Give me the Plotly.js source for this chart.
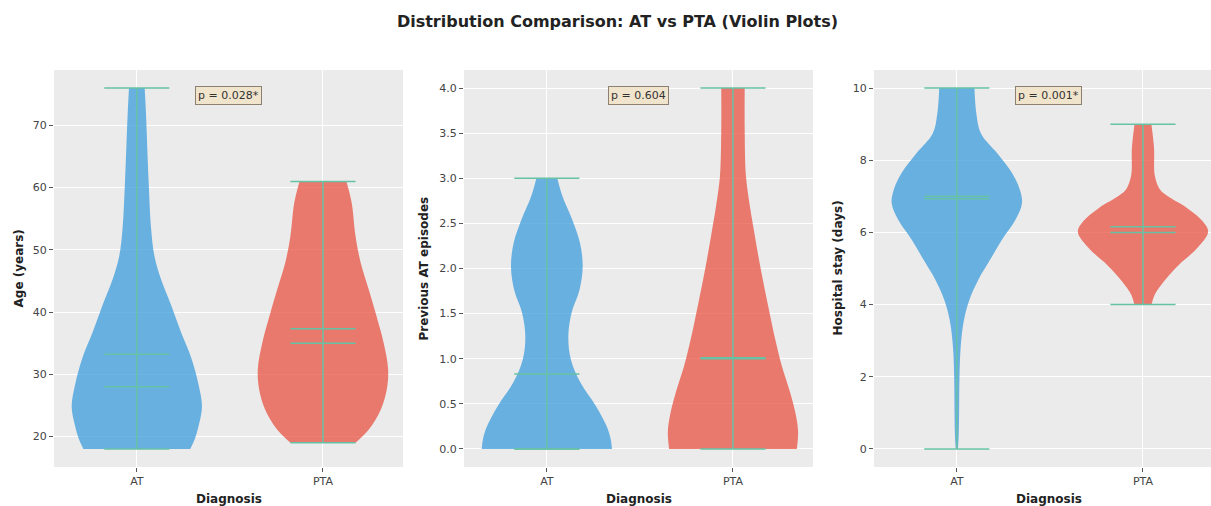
<!DOCTYPE html>
<html><head><meta charset="utf-8">
<script src="https://cdn.plot.ly/plotly-3.0.1.min.js"></script>
<style>html,body{margin:0;padding:0;overflow:hidden;background:#fff}#chart{width:1223px;height:506px}</style>
</head><body><div id="chart"></div>
<script>
// ---- Data ----
const categories = ['AT', 'PTA'];
const pValues = ['p = 0.028*', 'p = 0.604', 'p = 0.001*'];
const yTitles = ['Age (years)', 'Previous AT episodes', 'Hospital stay (days)'];

// Violin density profiles: y levels and relative half-width (1 = widest)
const ageAT_y   = [18.0, 19.6, 21.8, 24.8, 28.2, 32.5, 36.7, 41.0, 45.3, 49.0, 53.3, 61.3, 72.0, 76.0];
const ageAT_w   = [0.82, 0.89, 0.95, 1.00, 0.95, 0.84, 0.68, 0.53, 0.37, 0.27, 0.22, 0.18, 0.14, 0.12];
const agePTA_y  = [19.0, 21.2, 24.4, 27.6, 30.8, 35.1, 39.4, 43.7, 47.9, 52.2, 57.6, 61.0];
const agePTA_w  = [0.50, 0.71, 0.89, 0.98, 1.00, 0.93, 0.82, 0.70, 0.58, 0.50, 0.44, 0.36];

const prevAT_y  = [0.0, 0.11, 0.25, 0.48, 0.73, 0.99, 1.25, 1.51, 1.76, 2.02, 2.28, 2.54, 2.80, 3.0];
const prevAT_w  = [1.00, 0.98, 0.92, 0.75, 0.52, 0.37, 0.33, 0.38, 0.50, 0.55, 0.51, 0.39, 0.24, 0.16];
const prevPTA_y = [0.0, 0.18, 0.36, 0.62, 0.92, 1.21, 1.62, 2.02, 2.43, 2.69, 3.02, 3.53, 4.0];
const prevPTA_w = [0.98, 1.00, 0.97, 0.88, 0.75, 0.65, 0.53, 0.42, 0.32, 0.26, 0.20, 0.18, 0.18];

const stayAT_y  = [0.0, 0.08, 0.45, 1.0, 1.93, 2.85, 3.58, 4.14, 4.69, 5.24, 5.79, 6.35, 6.81, 7.17, 7.64, 8.19, 8.74, 9.29, 10.0];
const stayAT_w  = [0.015, 0.02, 0.03, 0.035, 0.04, 0.06, 0.11, 0.195, 0.33, 0.51, 0.69, 0.90, 1.00, 0.97, 0.85, 0.62, 0.37, 0.30, 0.27];
const stayPTA_y = [3.99, 4.27, 4.64, 5.10, 5.56, 6.02, 6.30, 6.67, 7.04, 7.22, 7.59, 8.33, 8.99];
const stayPTA_w = [0.13, 0.18, 0.32, 0.55, 0.83, 1.00, 0.92, 0.68, 0.35, 0.25, 0.18, 0.17, 0.13];

// Summary statistics per panel: [AT, PTA]
const ageMin = [18, 19],  ageMax = [76, 61],  ageMean = [33.2, 37.3],  ageMedian = [28, 35];
const prevMin = [0, 0],   prevMax = [3, 4],   prevMean = [0.83, 1.01], prevMedian = [0, 1];
const stayMin = [0, 4],   stayMax = [10, 9],  stayMean = [6.93, 6.16], stayMedian = [7, 6];

// ---- Style ----
const HALF = 0.35, BAR = 0.175;
const fillColors = ['rgba(52,152,219,0.72)', 'rgba(231,76,60,0.72)'];
const lineColor = '#66c2a5';
const FONT = 'DejaVu Sans, sans-serif';

function violin(pos, ys, ws, color, xa, ya) {
  const left = {
    type: 'scatter', mode: 'lines', xaxis: xa, yaxis: ya,
    x: ys.map((y, i) => pos - ws[i] * HALF), y: ys,
    line: {width: 0, shape: 'spline', smoothing: 1, color: color},
    hoverinfo: 'skip', showlegend: false
  };
  const right = {
    type: 'scatter', mode: 'lines', xaxis: xa, yaxis: ya,
    x: ys.map((y, i) => pos + ws[i] * HALF), y: ys,
    fill: 'tonextx', fillcolor: color,
    line: {width: 0, shape: 'spline', smoothing: 1, color: color},
    hoverinfo: 'skip', showlegend: false
  };
  return [left, right];
}
function statLines(mins, maxs, means, meds, xa, ya) {
  const x = [], y = [];
  [0, 1].forEach(p => {
    [mins[p], maxs[p], means[p], meds[p]].forEach(v => { x.push(p - BAR, p + BAR, null); y.push(v, v, null); });
    x.push(p, p, null); y.push(mins[p], maxs[p], null);
  });
  return {type: 'scatter', mode: 'lines', xaxis: xa, yaxis: ya, x: x, y: y,
    line: {color: lineColor, width: 1.5}, hoverinfo: 'skip', showlegend: false};
}

const traces = [].concat(
  violin(0, ageAT_y, ageAT_w, fillColors[0], 'x', 'y'),
  violin(1, agePTA_y, agePTA_w, fillColors[1], 'x', 'y'),
  [statLines(ageMin, ageMax, ageMean, ageMedian, 'x', 'y')],
  violin(0, prevAT_y, prevAT_w, fillColors[0], 'x2', 'y2'),
  violin(1, prevPTA_y, prevPTA_w, fillColors[1], 'x2', 'y2'),
  [statLines(prevMin, prevMax, prevMean, prevMedian, 'x2', 'y2')],
  violin(0, stayAT_y, stayAT_w, fillColors[0], 'x3', 'y3'),
  violin(1, stayPTA_y, stayPTA_w, fillColors[1], 'x3', 'y3'),
  [statLines(stayMin, stayMax, stayMean, stayMedian, 'x3', 'y3')]
);

const W = 1223, L = 54, PW = W - L;
const domains = [[0, 349 / PW], [(464 - L) / PW, (813 - L) / PW], [(874 - L) / PW, 1]];
function xax(i) {
  return {domain: domains[i], range: [-0.445, 1.43], tickvals: [0, 1], ticktext: categories,
    showgrid: true, gridcolor: '#ffffff', gridwidth: 1, zeroline: false,
    ticks: 'outside', ticklen: 4, tickcolor: '#555', tickfont: {family: FONT, size: 11, color: '#444'},
    anchor: i === 0 ? 'y' : 'y' + (i + 1), fixedrange: true};
}
function yax(i, range, tickvals, fmt) {
  return {domain: [0, 1], range: range, tickvals: tickvals, tickformat: fmt,
    showgrid: true, gridcolor: '#ffffff', gridwidth: 1, zeroline: false,
    ticks: 'outside', ticklen: 4, tickcolor: '#555', tickfont: {family: FONT, size: 11, color: '#444'},
    anchor: i === 0 ? 'x' : 'x' + (i + 1), fixedrange: true};
}

const titleX = [18, 423, 837];
const annotations = [];
for (let i = 0; i < 3; i++) {
  const sfx = i === 0 ? '' : String(i + 1);
  annotations.push({text: pValues[i], xref: 'x' + sfx + ' domain', yref: 'y' + sfx + ' domain',
    x: 0.5, y: 0.937, xanchor: 'center', yanchor: 'middle', showarrow: false,
    font: {family: FONT, size: 11, color: '#333'}, bgcolor: '#f1e4cd', bordercolor: '#8c8070',
    borderwidth: 1, borderpad: 2});
  annotations.push({text: '<b>Diagnosis</b>', xref: 'x' + sfx + ' domain', yref: 'paper',
    x: 0.5, y: -32 / 397, xanchor: 'center', yanchor: 'middle', showarrow: false,
    font: {family: FONT, size: 12, color: '#222'}});
  annotations.push({text: '<b>' + yTitles[i] + '</b>', xref: 'paper', yref: 'paper',
    x: (titleX[i] - L) / PW, y: 0.5, xanchor: 'center', yanchor: 'middle', textangle: -90,
    showarrow: false, font: {family: FONT, size: 12, color: '#222'}});
}

const layout = {
  width: W, height: 506,
  margin: {l: L, r: 0, t: 70, b: 39},
  paper_bgcolor: '#ffffff', plot_bgcolor: '#ebebeb',
  title: {text: '<b>Distribution Comparison: AT vs PTA (Violin Plots)</b>', x: 617.5 / W, xref: 'container',
    xanchor: 'center', y: 1 - 21 / 506, yref: 'container', yanchor: 'middle',
    font: {family: FONT, size: 16, color: '#222'}},
  xaxis: xax(0), xaxis2: xax(1), xaxis3: xax(2),
  yaxis: yax(0, [15.1, 78.9], [20, 30, 40, 50, 60, 70], 'd'),
  yaxis2: yax(1, [-0.2, 4.2], [0, 0.5, 1, 1.5, 2, 2.5, 3, 3.5, 4], '.1f'),
  yaxis3: yax(2, [-0.5, 10.5], [0, 2, 4, 6, 8, 10], 'd'),
  annotations: annotations,
  showlegend: false
};

Plotly.newPlot('chart', traces, layout, {displayModeBar: false, staticPlot: true});
</script></body></html>
